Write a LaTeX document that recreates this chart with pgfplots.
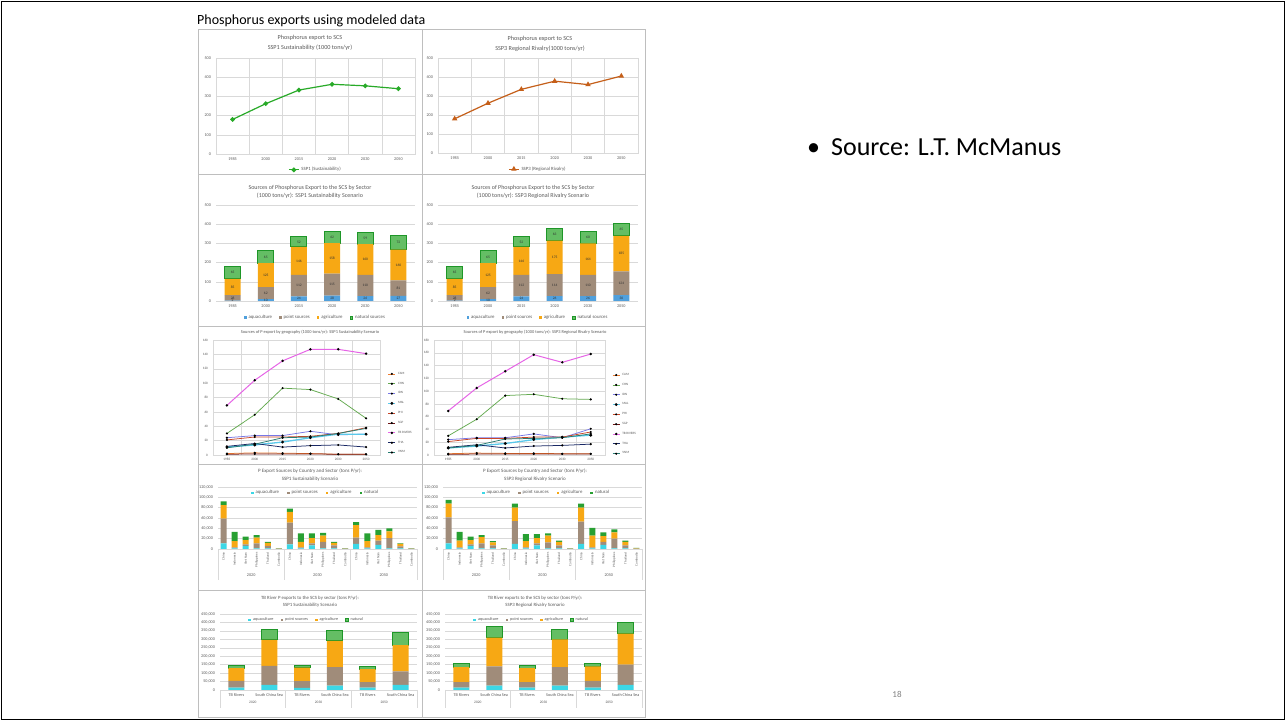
\documentclass[border=0pt]{standalone}
\usepackage{pgfplots}
\pgfplotsset{compat=1.18}
\usepackage{fontspec}
\setmainfont{Carlito}
\definecolor{tg}{RGB}{89,89,89}
\definecolor{grd}{RGB}{217,217,217}
\definecolor{frm}{RGB}{190,190,190}
\definecolor{sgreen}{RGB}{40,170,40}
\definecolor{sorange}{RGB}{197,95,25}
\definecolor{aqb}{RGB}{80,160,220}
\definecolor{pts}{RGB}{160,140,122}
\definecolor{agr}{RGB}{247,168,20}
\definecolor{natd}{RGB}{30,150,40}
\definecolor{natl}{RGB}{100,190,100}
\definecolor{aqc}{RGB}{60,215,230}
\definecolor{natg}{RGB}{40,160,50}
\definecolor{cCAM}{RGB}{237,125,49}
\definecolor{cCHN}{RGB}{100,170,80}
\definecolor{cIDN}{RGB}{120,120,230}
\definecolor{cMAL}{RGB}{90,200,235}
\definecolor{cPHI}{RGB}{200,70,40}
\definecolor{cSGP}{RGB}{110,20,20}
\definecolor{cTB}{RGB}{230,100,230}
\definecolor{cTHA}{RGB}{25,40,100}
\definecolor{cVNM}{RGB}{40,125,115}
\newcommand\tkf{\fontsize{4.2}{5}\selectfont}
\newcommand\lgf{\fontsize{4.8}{5.5}\selectfont}
\newcommand\dlf{\fontsize{3.6}{4}\selectfont}
\pgfplotsset{
 xl/.style={scale only axis, clip=false, anchor=south west,
  axis line style={draw=grd}, tick style={draw=none}, major tick length=0pt, minor tick length=0pt,
  major grid style={draw=grd, line width=0.35pt},
  minor grid style={draw=grd, line width=0.35pt},
  tick label style={font=\tkf, text=tg},
  /pgf/number format/assume math mode=true,
  /pgf/number format/fixed,
  /pgf/number format/1000 sep={,},
  scaled y ticks=false,
  yticklabel style={xshift=-1.5pt},
  legend style={draw=none, fill=none, font=\lgf, text=tg, inner sep=0pt},
 },
 cat6/.style={xmin=-0.5, xmax=5.5, xtick={0,...,5}, xticklabels={1985,2000,2015,2020,2030,2050}},
 boxgrid/.style={minor xtick={0.5,1.5,...,4.5}, xminorgrids, ymajorgrids},
 barax/.style={axis lines*=left, y axis line style={draw=none}, ymajorgrids, ybar stacked,
   legend image code/.code={\fill[##1] (0pt,-1.3pt) rectangle (2.6pt,1.3pt);}},
 lineleg/.style={legend image code/.code={\draw[##1, mark repeat=2, mark phase=2] plot coordinates {(0pt,0pt) (5pt,0pt) (10pt,0pt)};}},
 geo/.style={legend cell align=left,
   legend image code/.code={\draw[##1, mark repeat=2, mark phase=2] plot coordinates {(0pt,0pt) (3.5pt,0pt) (7pt,0pt)};},
   tick label style={font=\fontsize{3.4}{4}\selectfont},
   every axis plot/.append style={line width=0.75pt, mark=*, mark size=0.65pt, mark options={fill=black, draw=black}}},
 labax/.style={scale only axis, clip=false, anchor=south west, hide axis, xmin=-0.5, xmax=5.5, ymin=0, ymax=500},
 labplot/.style={only marks, mark=none, nodes near coords, point meta=explicit symbolic,
   every node near coord/.append style={font=\dlf, text=black!80, anchor=center, inner sep=0pt}},
}
\begin{document}
\begin{tikzpicture}[x=1pt,y=1pt]
\path[use as bounding box] (0,0) rectangle (1285,720);
\fill[white] (0,0) rectangle (1285,720);
\draw[black, line width=0.9pt] (1,1) rectangle (1284,719);
% slide texts
\node[anchor=base west, font=\fontsize{14}{16}\selectfont, inner sep=0pt] at (197,695.5) {Phosphorus exports using modeled data};
\node[anchor=base west, font=\fontsize{26}{30}\selectfont, inner sep=0pt] at (807,564) {•};
\node[anchor=base west, font=\fontsize{26}{30}\selectfont, inner sep=0pt] at (831,564) {Source: L.T. McManus};
\node[font=\fontsize{9}{10}\selectfont, text=black!50] at (897,26) {18};
% panel frames
\foreach \xa/\xb in {198/422,422/645}{
 \foreach \ya/\yb in {29/174,174/326,326/464,464/590,590/717}{
  \draw[frm, line width=0.5pt] (\xa,720-\ya) rectangle (\xb,720-\yb);
 }}
% titles
\node[font=\fontsize{6.2}{10}\selectfont, text=tg, align=center] at (310,677) {Phosphorus export to SCS\\SSP1 Sustainability (1000 tons/yr)};
\node[font=\fontsize{6.2}{10}\selectfont, text=tg, align=center] at (540,676) {Phosphorus export to SCS\\SSP3 Regional Rivalry(1000 tons/yr)};
\node[font=\fontsize{6}{8}\selectfont, text=tg, align=center] at (310,528) {Sources of Phosphorus Export to the SCS by Sector\\(1000 tons/yr): SSP1 Sustainability Scenario};
\node[font=\fontsize{6}{8}\selectfont, text=tg, align=center] at (533,528) {Sources of Phosphorus Export to the SCS by Sector\\(1000 tons/yr): SSP3 Regional Rivalry Scenario};
\node[font=\fontsize{4.4}{5}\selectfont, text=tg] at (310,388) {Sources of P export by geography (1000 tons/yr): SSP1 Sustainability Scenario};
\node[font=\fontsize{4.4}{5}\selectfont, text=tg] at (535,388) {Sources of P export by geography (1000 tons/yr): SSP3 Regional Rivalry Scenario};
\node[font=\fontsize{5}{8}\selectfont, text=tg, align=center] at (310,245) {P Export Sources by Country and Sector (tons P/yr):\\SSP1 Sustainability Scenario};
\node[font=\fontsize{5}{8}\selectfont, text=tg, align=center] at (535,245) {P Export Sources by Country and Sector (tons P/yr):\\SSP3 Regional Rivalry Scenario};
\node[font=\fontsize{4.8}{7}\selectfont, text=tg, align=center] at (310,118.5) {TB River P exports to the SCS by sector (tons P/yr):\\SSP1 Sustainability Scenario};
\node[font=\fontsize{4.8}{7}\selectfont, text=tg, align=center] at (535,118.5) {TB River exports to the SCS by sector (tons P/yr):\\SSP3 Regional Rivalry Scenario};

% ---------- P1
\begin{axis}[xl, cat6, boxgrid, at={(216pt,566pt)}, width=199pt, height=96pt, ymin=0, ymax=500, ytick={0,100,...,500}, lineleg, legend style={at={(0.5,-0.165)}, anchor=center}]
\addplot[sgreen, line width=1.2pt, mark=*, mark size=1.7pt, mark options={fill=sgreen, draw=sgreen}] coordinates {(0,180) (1,262) (2,333) (3,363) (4,355) (5,340)};
\addlegendentry{SSP1 (Sustainability)}
\end{axis}
% ---------- P2
\begin{axis}[xl, cat6, boxgrid, at={(438pt,567pt)}, width=200pt, height=95pt, ymin=0, ymax=500, ytick={0,100,...,500}, lineleg, legend style={at={(0.5,-0.17)}, anchor=center}]
\addplot[sorange, line width=1.2pt, mark=triangle*, mark size=2pt, mark options={fill=sorange, draw=sorange}] coordinates {(0,180) (1,262) (2,335) (3,378) (4,360) (5,405)};
\addlegendentry{SSP3 (Regional Rivalry)}
\end{axis}
% ---------- P3
\begin{axis}[xl, cat6, barax, at={(216pt,419pt)}, width=199pt, height=96pt, ymin=0, ymax=500, ytick={0,100,...,500}, bar width=16pt, legend columns=4, legend style={at={(0.5,-0.175)}, anchor=center, /tikz/every even column/.append style={column sep=5pt}}]
\addplot[fill=aqb, draw=none] coordinates {(0,2)(1,10)(2,24)(3,28)(4,26)(5,27)};
\addplot[fill=pts, draw=none] coordinates {(0,28)(1,62)(2,112)(3,115)(4,110)(5,81)};
\addplot[fill=agr, draw=none] coordinates {(0,85)(1,125)(2,146)(3,158)(4,160)(5,160)};
\addplot[fill=natl, draw=natd, line width=1pt] coordinates {(0,65)(1,65)(2,52)(3,62)(4,59)(5,72)};
\legend{aquaculture, point sources, agriculture, natural sources}
\end{axis}
\begin{axis}[labax, at={(216pt,419pt)}, width=199pt, height=96pt]
\addplot[labplot] coordinates {
(0,4)[2] (0,16)[28] (0,72.5)[85] (0,147.5)[65]
(1,5)[10] (1,41)[62] (1,134.5)[125] (1,229.5)[65]
(2,12)[24] (2,80)[112] (2,209)[146] (2,308)[52]
(3,14)[28] (3,85.5)[115] (3,222)[158] (3,332)[62]
(4,13)[26] (4,81)[110] (4,216)[160] (4,325.5)[59]
(5,13.5)[27] (5,67.5)[81] (5,188)[160] (5,304)[72]};
\end{axis}
% ---------- P4
\begin{axis}[xl, cat6, barax, at={(438pt,419pt)}, width=200pt, height=96pt, ymin=0, ymax=500, ytick={0,100,...,500}, bar width=16pt, legend columns=4, legend style={at={(0.5,-0.175)}, anchor=center, /tikz/every even column/.append style={column sep=5pt}}]
\addplot[fill=aqb, draw=none] coordinates {(0,2)(1,10)(2,24)(3,26)(4,26)(5,30)};
\addplot[fill=pts, draw=none] coordinates {(0,28)(1,62)(2,112)(3,114)(4,110)(5,124)};
\addplot[fill=agr, draw=none] coordinates {(0,85)(1,125)(2,146)(3,175)(4,164)(5,185)};
\addplot[fill=natl, draw=natd, line width=1pt] coordinates {(0,65)(1,65)(2,52)(3,63)(4,60)(5,65)};
\legend{aquaculture, point sources, agriculture, natural sources}
\end{axis}
\begin{axis}[labax, at={(438pt,419pt)}, width=200pt, height=96pt]
\addplot[labplot] coordinates {
(0,4)[2] (0,16)[28] (0,72.5)[85] (0,147.5)[65]
(1,5)[10] (1,41)[62] (1,134.5)[125] (1,229.5)[65]
(2,12)[24] (2,80)[112] (2,209)[146] (2,308)[52]
(3,13)[26] (3,83)[114] (3,227.5)[175] (3,346.5)[63]
(4,13)[26] (4,81)[110] (4,218)[164] (4,330)[60]
(5,15)[30] (5,92)[124] (5,246.5)[185] (5,371.5)[65]};
\end{axis}
% ---------- P5
\begin{axis}[xl, cat6, boxgrid, geo, at={(213pt,265pt)}, width=167pt, height=115pt, ymin=0, ymax=160, ytick={0,20,...,160},
 legend style={at={(1.045,0.74)}, anchor=north west, font=\fontsize{3.3}{4}\selectfont, row sep=2.2pt}]
\addplot[cCAM] coordinates {(0,2)(1,3)(2,2.5)(3,2)(4,1)(5,1)};
\addplot[cCHN] coordinates {(0,30)(1,56)(2,93)(3,91)(4,78)(5,51)};
\addplot[cIDN] coordinates {(0,24)(1,27)(2,27)(3,33)(4,28)(5,29)};
\addplot[cMAL, line width=1.3pt] coordinates {(0,11)(1,14)(2,18)(3,24)(4,29)(5,29)};
\addplot[cPHI] coordinates {(0,21)(1,25)(2,25)(3,26)(4,30)(5,38)};
\addplot[cSGP] coordinates {(0,1)(1,1.5)(2,1.5)(3,1.5)(4,1)(5,1)};
\addplot[cTB, line width=1pt] coordinates {(0,69)(1,104)(2,131)(3,147)(4,147)(5,141)};
\addplot[cTHA] coordinates {(0,12)(1,16)(2,11)(3,13)(4,14)(5,11)};
\addplot[cVNM] coordinates {(0,10)(1,15)(2,24)(3,25)(4,30)(5,37)};
\legend{CAM,CHN,IDN,MAL,PHI,SGP,TB RIVERS,THA,VNM}
\end{axis}
% ---------- P6
\begin{axis}[xl, cat6, boxgrid, geo, at={(434pt,265pt)}, width=171pt, height=115pt, ymin=0, ymax=180, ytick={0,20,...,180},
 legend style={at={(1.04,0.73)}, anchor=north west, font=\fontsize{3.3}{4}\selectfont, row sep=2.2pt}]
\addplot[cCAM] coordinates {(0,2)(1,3)(2,2.5)(3,2.5)(4,2)(5,2)};
\addplot[cCHN] coordinates {(0,30)(1,56)(2,93)(3,95)(4,88)(5,87)};
\addplot[cIDN] coordinates {(0,24)(1,27)(2,27)(3,33)(4,27)(5,41)};
\addplot[cMAL, line width=1.3pt] coordinates {(0,11)(1,14)(2,18)(3,24)(4,28)(5,31)};
\addplot[cPHI] coordinates {(0,21)(1,26)(2,26)(3,28)(4,28)(5,36)};
\addplot[cSGP] coordinates {(0,1)(1,1.5)(2,1.5)(3,1.5)(4,1.5)(5,1.5)};
\addplot[cTB, line width=1pt] coordinates {(0,69)(1,105)(2,131)(3,157)(4,145)(5,158)};
\addplot[cTHA] coordinates {(0,12)(1,16)(2,11)(3,14)(4,15)(5,17)};
\addplot[cVNM] coordinates {(0,11)(1,15)(2,25)(3,26)(4,27)(5,33)};
\legend{CAM,CHN,IDN,MAL,PHI,SGP,TB RIVERS,THA,VNM}
\end{axis}
% ---------- P7
\begin{axis}[xl, barax, at={(218pt,171pt)}, width=199pt, height=62pt, ymin=0, ymax=120000, ytick={0,20000,...,120000},
 xmin=-0.5, xmax=17.5, xtick={0,...,17},
 xticklabels={China,Indonesia,Viet Nam,Philippines,Thailand,Cambodia,China,Indonesia,Viet Nam,Philippines,Thailand,Cambodia,China,Indonesia,Viet Nam,Philippines,Thailand,Cambodia},
 xticklabel style={rotate=90, anchor=east, font=\fontsize{3.3}{4}\selectfont},
 bar width=6pt, legend columns=4, legend style={at={(0.49,0.903)}, anchor=center, /tikz/every even column/.append style={column sep=6pt}}]
\addplot[fill=aqc, draw=none] coordinates {(0,11000)(1,1000)(2,6000)(3,1000)(4,1000)(5,300)(6,9000)(7,1000)(8,7000)(9,1000)(10,1000)(11,300)(12,10000)(13,1000)(14,8000)(15,1000)(16,1000)(17,300)};
\addplot[fill=pts, draw=none] coordinates {(0,48000)(1,2000)(2,3000)(3,10000)(4,5000)(5,500)(6,42000)(7,2000)(8,4000)(9,13000)(10,6000)(11,500)(12,12000)(13,2000)(14,8000)(15,20000)(16,4000)(17,400)};
\addplot[fill=agr, draw=none] coordinates {(0,26000)(1,12000)(2,8000)(3,11000)(4,6000)(5,500)(6,21000)(7,11000)(8,10000)(9,12000)(10,5000)(11,500)(12,24000)(13,12000)(14,11000)(15,13000)(16,5000)(17,400)};
\addplot[fill=natg, draw=none] coordinates {(0,7000)(1,18000)(2,7000)(3,5000)(4,2000)(5,500)(6,6000)(7,16000)(8,9000)(9,5000)(10,2000)(11,500)(12,6000)(13,15000)(14,10000)(15,6000)(16,1000)(17,400)};
\legend{aquaculture, point sources, agriculture, natural}
\draw[grd] (axis cs:-0.5,0) -- ++(0pt,-31pt);
\draw[grd] (axis cs:5.5,0) -- ++(0pt,-31pt);
\draw[grd] (axis cs:11.5,0) -- ++(0pt,-31pt);
\draw[grd] (axis cs:17.5,0) -- ++(0pt,-31pt);
\node[font=\tkf, text=tg] at (axis cs:2.5,0) [yshift=-26pt] {2020};
\node[font=\tkf, text=tg] at (axis cs:8.5,0) [yshift=-26pt] {2030};
\node[font=\tkf, text=tg] at (axis cs:14.5,0) [yshift=-26pt] {2050};
\end{axis}
% ---------- P8
\begin{axis}[xl, barax, at={(443pt,171pt)}, width=199pt, height=62pt, ymin=0, ymax=120000, ytick={0,20000,...,120000},
 xmin=-0.5, xmax=17.5, xtick={0,...,17},
 xticklabels={China,Indonesia,Viet Nam,Philippines,Thailand,Cambodia,China,Indonesia,Viet Nam,Philippines,Thailand,Cambodia,China,Indonesia,Viet Nam,Philippines,Thailand,Cambodia},
 xticklabel style={rotate=90, anchor=east, font=\fontsize{3.3}{4}\selectfont},
 bar width=6pt, legend columns=4, legend style={at={(0.52,0.903)}, anchor=center, /tikz/every even column/.append style={column sep=6pt}}]
\addplot[fill=aqc, draw=none] coordinates {(0,11000)(1,1000)(2,6000)(3,1000)(4,1000)(5,300)(6,10000)(7,1000)(8,7000)(9,1000)(10,1000)(11,300)(12,10000)(13,1000)(14,8000)(15,1000)(16,1000)(17,300)};
\addplot[fill=pts, draw=none] coordinates {(0,50000)(1,2000)(2,3000)(3,10000)(4,6000)(5,500)(6,44000)(7,2000)(8,4000)(9,12000)(10,6000)(11,500)(12,43000)(13,2000)(14,6000)(15,19000)(16,6000)(17,600)};
\addplot[fill=agr, draw=none] coordinates {(0,27000)(1,13000)(2,8000)(3,12000)(4,6000)(5,500)(6,26000)(7,12000)(8,10000)(9,13000)(10,7000)(11,500)(12,27000)(13,23000)(14,11000)(15,12000)(16,7000)(17,600)};
\addplot[fill=natg, draw=none] coordinates {(0,7000)(1,17000)(2,7000)(3,4000)(4,2000)(5,500)(6,8000)(7,14000)(8,8000)(9,4000)(10,2000)(11,500)(12,8000)(13,15000)(14,7000)(15,6000)(16,2000)(17,500)};
\legend{aquaculture, point sources, agriculture, natural}
\draw[grd] (axis cs:-0.5,0) -- ++(0pt,-31pt);
\draw[grd] (axis cs:5.5,0) -- ++(0pt,-31pt);
\draw[grd] (axis cs:11.5,0) -- ++(0pt,-31pt);
\draw[grd] (axis cs:17.5,0) -- ++(0pt,-31pt);
\node[font=\tkf, text=tg] at (axis cs:2.5,0) [yshift=-26pt] {2020};
\node[font=\tkf, text=tg] at (axis cs:8.5,0) [yshift=-26pt] {2030};
\node[font=\tkf, text=tg] at (axis cs:14.5,0) [yshift=-26pt] {2050};
\end{axis}
% ---------- P9
\begin{axis}[xl, barax, at={(220pt,30pt)}, width=197pt, height=76pt, ymin=0, ymax=450000, ytick={0,50000,...,450000},
 xmin=-0.5, xmax=5.5, xtick={0,...,5}, xticklabels={TB Rivers,South China Sea,TB Rivers,South China Sea,TB Rivers,South China Sea},
 bar width=16pt, legend columns=4, legend style={at={(0.44,0.92)}, anchor=center, font=\fontsize{4.2}{5}\selectfont, /tikz/every even column/.append style={column sep=5pt}}]
\addplot[fill=aqc, draw=none] coordinates {(0,14000)(1,30000)(2,12000)(3,26000)(4,14000)(5,30000)};
\addplot[fill=pts, draw=none] coordinates {(0,40000)(1,113000)(2,40000)(3,109000)(4,32000)(5,80000)};
\addplot[fill=agr, draw=none] coordinates {(0,76000)(1,154000)(2,80000)(3,156000)(4,77000)(5,155000)};
\addplot[fill=natl, draw=natd, line width=1pt] coordinates {(0,15000)(1,63000)(2,13000)(3,59000)(4,14000)(5,73000)};
\legend{aquaculture, point sources, agriculture, natural}
\draw[grd] (axis cs:-0.5,0) -- ++(0pt,-18pt);
\draw[grd] (axis cs:1.5,0) -- ++(0pt,-18pt);
\draw[grd] (axis cs:3.5,0) -- ++(0pt,-18pt);
\draw[grd] (axis cs:5.5,0) -- ++(0pt,-18pt);
\node[font=\fontsize{3.6}{4}\selectfont, text=tg] at (axis cs:0.5,0) [yshift=-12pt] {2020};
\node[font=\fontsize{3.6}{4}\selectfont, text=tg] at (axis cs:2.5,0) [yshift=-12pt] {2030};
\node[font=\fontsize{3.6}{4}\selectfont, text=tg] at (axis cs:4.5,0) [yshift=-12pt] {2050};
\end{axis}
% ---------- P10
\begin{axis}[xl, barax, at={(445pt,30pt)}, width=197pt, height=76pt, ymin=0, ymax=450000, ytick={0,50000,...,450000},
 xmin=-0.5, xmax=5.5, xtick={0,...,5}, xticklabels={TB Rivers,South China Sea,TB Rivers,South China Sea,TB Rivers,South China Sea},
 bar width=16pt, legend columns=4, legend style={at={(0.44,0.92)}, anchor=center, font=\fontsize{4.2}{5}\selectfont, /tikz/every even column/.append style={column sep=5pt}}]
\addplot[fill=aqc, draw=none] coordinates {(0,14000)(1,26000)(2,14000)(3,26000)(4,14000)(5,30000)};
\addplot[fill=pts, draw=none] coordinates {(0,32000)(1,114000)(2,32000)(3,110000)(4,40000)(5,120000)};
\addplot[fill=agr, draw=none] coordinates {(0,90000)(1,170000)(2,84000)(3,164000)(4,86000)(5,184000)};
\addplot[fill=natl, draw=natd, line width=1pt] coordinates {(0,18000)(1,64000)(2,14000)(3,56000)(4,14000)(5,66000)};
\legend{aquaculture, point sources, agriculture, natural}
\draw[grd] (axis cs:-0.5,0) -- ++(0pt,-18pt);
\draw[grd] (axis cs:1.5,0) -- ++(0pt,-18pt);
\draw[grd] (axis cs:3.5,0) -- ++(0pt,-18pt);
\draw[grd] (axis cs:5.5,0) -- ++(0pt,-18pt);
\node[font=\fontsize{3.6}{4}\selectfont, text=tg] at (axis cs:0.5,0) [yshift=-12pt] {2020};
\node[font=\fontsize{3.6}{4}\selectfont, text=tg] at (axis cs:2.5,0) [yshift=-12pt] {2030};
\node[font=\fontsize{3.6}{4}\selectfont, text=tg] at (axis cs:4.5,0) [yshift=-12pt] {2050};
\end{axis}
\end{tikzpicture}
\end{document}
